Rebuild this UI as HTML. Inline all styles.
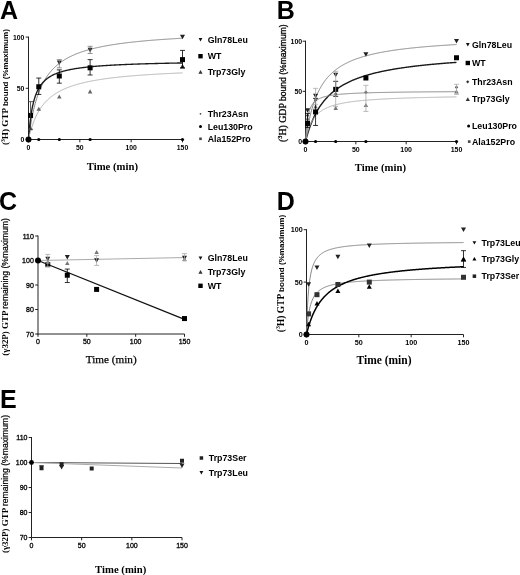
<!DOCTYPE html><html><head><meta charset="utf-8"><style>html,body{margin:0;padding:0;background:#fff;}svg{display:block;filter:grayscale(1)}</style></head><body>
<svg width="520" height="575" viewBox="0 0 520 575">
<rect width="520" height="575" fill="#fff"/>
<text x="0" y="19.4" font-family='"Liberation Sans", sans-serif' font-size="25" font-weight="bold" text-anchor="start" fill="#000" >A</text>
<text x="276.8" y="18.8" font-family='"Liberation Sans", sans-serif' font-size="25" font-weight="bold" text-anchor="start" fill="#000" >B</text>
<text x="-1" y="210.2" font-family='"Liberation Sans", sans-serif' font-size="25" font-weight="bold" text-anchor="start" fill="#000" >C</text>
<text x="276.8" y="210.2" font-family='"Liberation Sans", sans-serif' font-size="25" font-weight="bold" text-anchor="start" fill="#000" >D</text>
<text x="0" y="408" font-family='"Liberation Sans", sans-serif' font-size="25" font-weight="bold" text-anchor="start" fill="#000" >E</text>
<line x1="28.5" y1="36.6" x2="28.5" y2="140" stroke="#222" stroke-width="1"/>
<line x1="28" y1="139.5" x2="182.5" y2="139.5" stroke="#222" stroke-width="1"/>
<line x1="25.7" y1="139.5" x2="28.5" y2="139.5" stroke="#222" stroke-width="1"/>
<text transform="translate(24.4,142.29) scale(0.88,1)" font-family='"Liberation Sans", sans-serif' font-size="7.8" font-weight="bold" text-anchor="end">0</text>
<line x1="25.7" y1="88.3" x2="28.5" y2="88.3" stroke="#222" stroke-width="1"/>
<text transform="translate(24.4,91.09) scale(0.88,1)" font-family='"Liberation Sans", sans-serif' font-size="7.8" font-weight="bold" text-anchor="end">50</text>
<line x1="25.7" y1="37.1" x2="28.5" y2="37.1" stroke="#222" stroke-width="1"/>
<text transform="translate(24.4,39.89) scale(0.88,1)" font-family='"Liberation Sans", sans-serif' font-size="7.8" font-weight="bold" text-anchor="end">100</text>
<line x1="28.5" y1="139.5" x2="28.5" y2="142.3" stroke="#222" stroke-width="1"/>
<text transform="translate(28.5,149.89) scale(0.88,1)" font-family='"Liberation Sans", sans-serif' font-size="7.8" font-weight="bold" text-anchor="middle">0</text>
<line x1="79.83" y1="139.5" x2="79.83" y2="142.3" stroke="#222" stroke-width="1"/>
<text transform="translate(79.83,149.89) scale(0.88,1)" font-family='"Liberation Sans", sans-serif' font-size="7.8" font-weight="bold" text-anchor="middle">50</text>
<line x1="131.17" y1="139.5" x2="131.17" y2="142.3" stroke="#222" stroke-width="1"/>
<text transform="translate(131.17,149.89) scale(0.88,1)" font-family='"Liberation Sans", sans-serif' font-size="7.8" font-weight="bold" text-anchor="middle">100</text>
<line x1="182.5" y1="139.5" x2="182.5" y2="142.3" stroke="#222" stroke-width="1"/>
<text transform="translate(182.5,149.89) scale(0.88,1)" font-family='"Liberation Sans", sans-serif' font-size="7.8" font-weight="bold" text-anchor="middle">150</text>
<text transform="translate(8.3,87.1) rotate(-90)" text-anchor="middle"><tspan font-family='"Liberation Serif", serif' font-size="9.16" font-weight="bold">(<tspan font-size="5.68" dy="-3.3">3</tspan><tspan dy="3.3">H) GTP </tspan></tspan><tspan font-family='"Liberation Sans", sans-serif' font-size="8.05" font-weight="bold">bound (%maximum)</tspan></text>
<text x="112.4" y="170.3" font-family='"Liberation Serif", serif' font-size="10.7" font-weight="bold" text-anchor="middle" fill="#000" >Time (min)</text>
<polyline points="28.5,139.5 29.01,135.56 29.53,131.89 30.04,128.46 30.55,125.26 31.07,122.25 31.58,119.43 32.09,116.77 32.61,114.27 33.12,111.9 33.63,109.67 34.15,107.55 34.66,105.53 35.17,103.62 35.69,101.81 36.2,100.08 36.71,98.43 37.23,96.85 37.74,95.35 38.25,93.91 38.77,92.53 39.28,91.21 39.79,89.94 40.31,88.72 40.82,87.55 41.33,86.43 41.85,85.35 42.36,84.31 42.87,83.3 43.39,82.34 43.9,81.4 44.41,80.5 44.93,79.63 45.44,78.79 45.95,77.97 46.47,77.18 46.98,76.42 47.49,75.68 48.01,74.97 48.52,74.27 49.03,73.6 49.55,72.94 50.06,72.31 50.57,71.69 51.09,71.09 51.6,70.51 52.11,69.94 52.63,69.39 53.14,68.85 53.65,68.33 54.17,67.82 54.68,67.32 55.19,66.84 55.71,66.37 56.22,65.91 56.73,65.46 57.25,65.02 57.76,64.59 58.27,64.18 58.79,63.77 59.3,63.37 59.81,62.98 60.33,62.6 60.84,62.23 61.35,61.87 61.87,61.51 62.38,61.16 62.89,60.82 63.41,60.49 63.92,60.16 64.43,59.84 64.95,59.53 65.46,59.22 65.97,58.92 66.49,58.62 67,58.33 67.51,58.05 68.03,57.77 68.54,57.5 69.05,57.23 69.57,56.97 70.08,56.71 70.59,56.46 71.11,56.21 71.62,55.96 72.13,55.72 72.65,55.49 73.16,55.26 73.67,55.03 74.19,54.81 74.7,54.59 75.21,54.37 75.73,54.16 76.24,53.95 76.75,53.74 77.27,53.54 77.78,53.34 78.29,53.15 78.81,52.96 79.32,52.77 79.83,52.58 80.35,52.4 80.86,52.22 81.37,52.04 81.89,51.86 82.4,51.69 82.91,51.52 83.43,51.35 83.94,51.19 84.45,51.03 84.97,50.87 85.48,50.71 85.99,50.55 86.51,50.4 87.02,50.25 87.53,50.1 88.05,49.96 88.56,49.81 89.07,49.67 89.59,49.53 90.1,49.39 90.61,49.25 91.13,49.12 91.64,48.98 92.15,48.85 92.67,48.72 93.18,48.59 93.69,48.47 94.21,48.34 94.72,48.22 95.23,48.1 95.75,47.98 96.26,47.86 96.77,47.74 97.29,47.62 97.8,47.51 98.31,47.4 98.83,47.29 99.34,47.18 99.85,47.07 100.37,46.96 100.88,46.85 101.39,46.75 101.91,46.64 102.42,46.54 102.93,46.44 103.45,46.34 103.96,46.24 104.47,46.14 104.99,46.05 105.5,45.95 106.01,45.86 106.53,45.76 107.04,45.67 107.55,45.58 108.07,45.49 108.58,45.4 109.09,45.31 109.61,45.22 110.12,45.14 110.63,45.05 111.15,44.97 111.66,44.88 112.17,44.8 112.69,44.72 113.2,44.64 113.71,44.56 114.23,44.48 114.74,44.4 115.25,44.32 115.77,44.24 116.28,44.17 116.79,44.09 117.31,44.02 117.82,43.94 118.33,43.87 118.85,43.79 119.36,43.72 119.87,43.65 120.39,43.58 120.9,43.51 121.41,43.44 121.93,43.37 122.44,43.31 122.95,43.24 123.47,43.17 123.98,43.11 124.49,43.04 125.01,42.98 125.52,42.91 126.03,42.85 126.55,42.78 127.06,42.72 127.57,42.66 128.09,42.6 128.6,42.54 129.11,42.48 129.63,42.42 130.14,42.36 130.65,42.3 131.17,42.24 131.68,42.18 132.19,42.13 132.71,42.07 133.22,42.02 133.73,41.96 134.25,41.9 134.76,41.85 135.27,41.8 135.79,41.74 136.3,41.69 136.81,41.64 137.33,41.58 137.84,41.53 138.35,41.48 138.87,41.43 139.38,41.38 139.89,41.33 140.41,41.28 140.92,41.23 141.43,41.18 141.95,41.13 142.46,41.08 142.97,41.03 143.49,40.99 144,40.94 144.51,40.89 145.03,40.85 145.54,40.8 146.05,40.76 146.57,40.71 147.08,40.66 147.59,40.62 148.11,40.58 148.62,40.53 149.13,40.49 149.65,40.45 150.16,40.4 150.67,40.36 151.19,40.32 151.7,40.28 152.21,40.23 152.73,40.19 153.24,40.15 153.75,40.11 154.27,40.07 154.78,40.03 155.29,39.99 155.81,39.95 156.32,39.91 156.83,39.87 157.35,39.83 157.86,39.8 158.37,39.76 158.89,39.72 159.4,39.68 159.91,39.64 160.43,39.61 160.94,39.57 161.45,39.53 161.97,39.5 162.48,39.46 162.99,39.43 163.51,39.39 164.02,39.35 164.53,39.32 165.05,39.28 165.56,39.25 166.07,39.22 166.59,39.18 167.1,39.15 167.61,39.11 168.13,39.08 168.64,39.05 169.15,39.01 169.67,38.98 170.18,38.95 170.69,38.92 171.21,38.88 171.72,38.85 172.23,38.82 172.75,38.79 173.26,38.76 173.77,38.73 174.29,38.7 174.8,38.67 175.31,38.64 175.83,38.6 176.34,38.57 176.85,38.54 177.37,38.51 177.88,38.49 178.39,38.46 178.91,38.43 179.42,38.4 179.93,38.37 180.45,38.34 180.96,38.31 181.47,38.28 181.99,38.26 182.5,38.23" fill="none" stroke="#777" stroke-width="0.9"/>
<polyline points="28.5,139.5 29.01,132.89 29.53,127.29 30.04,122.49 30.55,118.34 31.07,114.7 31.58,111.49 32.09,108.64 32.61,106.09 33.12,103.79 33.63,101.71 34.15,99.82 34.66,98.09 35.17,96.51 35.69,95.06 36.2,93.72 36.71,92.47 37.23,91.32 37.74,90.24 38.25,89.24 38.77,88.3 39.28,87.42 39.79,86.59 40.31,85.82 40.82,85.08 41.33,84.39 41.85,83.73 42.36,83.11 42.87,82.52 43.39,81.96 43.9,81.43 44.41,80.92 44.93,80.44 45.44,79.98 45.95,79.54 46.47,79.12 46.98,78.71 47.49,78.33 48.01,77.96 48.52,77.6 49.03,77.26 49.55,76.93 50.06,76.61 50.57,76.31 51.09,76.01 51.6,75.73 52.11,75.46 52.63,75.19 53.14,74.94 53.65,74.69 54.17,74.45 54.68,74.22 55.19,74 55.71,73.78 56.22,73.57 56.73,73.37 57.25,73.17 57.76,72.98 58.27,72.79 58.79,72.61 59.3,72.44 59.81,72.26 60.33,72.1 60.84,71.94 61.35,71.78 61.87,71.63 62.38,71.48 62.89,71.33 63.41,71.19 63.92,71.05 64.43,70.92 64.95,70.79 65.46,70.66 65.97,70.53 66.49,70.41 67,70.29 67.51,70.17 68.03,70.06 68.54,69.95 69.05,69.84 69.57,69.73 70.08,69.63 70.59,69.53 71.11,69.43 71.62,69.33 72.13,69.23 72.65,69.14 73.16,69.05 73.67,68.96 74.19,68.87 74.7,68.78 75.21,68.7 75.73,68.62 76.24,68.53 76.75,68.45 77.27,68.38 77.78,68.3 78.29,68.22 78.81,68.15 79.32,68.08 79.83,68 80.35,67.93 80.86,67.87 81.37,67.8 81.89,67.73 82.4,67.67 82.91,67.6 83.43,67.54 83.94,67.48 84.45,67.41 84.97,67.35 85.48,67.3 85.99,67.24 86.51,67.18 87.02,67.12 87.53,67.07 88.05,67.01 88.56,66.96 89.07,66.91 89.59,66.86 90.1,66.8 90.61,66.75 91.13,66.7 91.64,66.65 92.15,66.61 92.67,66.56 93.18,66.51 93.69,66.47 94.21,66.42 94.72,66.38 95.23,66.33 95.75,66.29 96.26,66.24 96.77,66.2 97.29,66.16 97.8,66.12 98.31,66.08 98.83,66.04 99.34,66 99.85,65.96 100.37,65.92 100.88,65.88 101.39,65.85 101.91,65.81 102.42,65.77 102.93,65.74 103.45,65.7 103.96,65.67 104.47,65.63 104.99,65.6 105.5,65.56 106.01,65.53 106.53,65.5 107.04,65.46 107.55,65.43 108.07,65.4 108.58,65.37 109.09,65.34 109.61,65.31 110.12,65.28 110.63,65.25 111.15,65.22 111.66,65.19 112.17,65.16 112.69,65.13 113.2,65.1 113.71,65.07 114.23,65.04 114.74,65.02 115.25,64.99 115.77,64.96 116.28,64.94 116.79,64.91 117.31,64.88 117.82,64.86 118.33,64.83 118.85,64.81 119.36,64.78 119.87,64.76 120.39,64.73 120.9,64.71 121.41,64.69 121.93,64.66 122.44,64.64 122.95,64.62 123.47,64.59 123.98,64.57 124.49,64.55 125.01,64.53 125.52,64.5 126.03,64.48 126.55,64.46 127.06,64.44 127.57,64.42 128.09,64.4 128.6,64.38 129.11,64.36 129.63,64.34 130.14,64.32 130.65,64.3 131.17,64.28 131.68,64.26 132.19,64.24 132.71,64.22 133.22,64.2 133.73,64.18 134.25,64.16 134.76,64.14 135.27,64.13 135.79,64.11 136.3,64.09 136.81,64.07 137.33,64.05 137.84,64.04 138.35,64.02 138.87,64 139.38,63.99 139.89,63.97 140.41,63.95 140.92,63.94 141.43,63.92 141.95,63.9 142.46,63.89 142.97,63.87 143.49,63.85 144,63.84 144.51,63.82 145.03,63.81 145.54,63.79 146.05,63.78 146.57,63.76 147.08,63.75 147.59,63.73 148.11,63.72 148.62,63.7 149.13,63.69 149.65,63.67 150.16,63.66 150.67,63.65 151.19,63.63 151.7,63.62 152.21,63.6 152.73,63.59 153.24,63.58 153.75,63.56 154.27,63.55 154.78,63.54 155.29,63.52 155.81,63.51 156.32,63.5 156.83,63.48 157.35,63.47 157.86,63.46 158.37,63.45 158.89,63.43 159.4,63.42 159.91,63.41 160.43,63.4 160.94,63.39 161.45,63.37 161.97,63.36 162.48,63.35 162.99,63.34 163.51,63.33 164.02,63.31 164.53,63.3 165.05,63.29 165.56,63.28 166.07,63.27 166.59,63.26 167.1,63.25 167.61,63.24 168.13,63.22 168.64,63.21 169.15,63.2 169.67,63.19 170.18,63.18 170.69,63.17 171.21,63.16 171.72,63.15 172.23,63.14 172.75,63.13 173.26,63.12 173.77,63.11 174.29,63.1 174.8,63.09 175.31,63.08 175.83,63.07 176.34,63.06 176.85,63.05 177.37,63.04 177.88,63.03 178.39,63.02 178.91,63.01 179.42,63 179.93,62.99 180.45,62.98 180.96,62.97 181.47,62.97 181.99,62.96 182.5,62.95" fill="none" stroke="#1a1a1a" stroke-width="1.35"/>
<polyline points="28.5,139.5 29.01,137.27 29.53,135.16 30.04,133.18 30.55,131.31 31.07,129.54 31.58,127.86 32.09,126.27 32.61,124.75 33.12,123.32 33.63,121.95 34.15,120.64 34.66,119.39 35.17,118.2 35.69,117.06 36.2,115.97 36.71,114.92 37.23,113.92 37.74,112.96 38.25,112.03 38.77,111.14 39.28,110.29 39.79,109.46 40.31,108.67 40.82,107.9 41.33,107.16 41.85,106.45 42.36,105.76 42.87,105.09 43.39,104.45 43.9,103.83 44.41,103.22 44.93,102.64 45.44,102.07 45.95,101.52 46.47,100.99 46.98,100.47 47.49,99.96 48.01,99.48 48.52,99 49.03,98.54 49.55,98.09 50.06,97.65 50.57,97.23 51.09,96.82 51.6,96.41 52.11,96.02 52.63,95.64 53.14,95.26 53.65,94.9 54.17,94.54 54.68,94.2 55.19,93.86 55.71,93.53 56.22,93.21 56.73,92.89 57.25,92.58 57.76,92.28 58.27,91.99 58.79,91.7 59.3,91.42 59.81,91.14 60.33,90.87 60.84,90.61 61.35,90.35 61.87,90.09 62.38,89.85 62.89,89.6 63.41,89.36 63.92,89.13 64.43,88.9 64.95,88.68 65.46,88.46 65.97,88.24 66.49,88.03 67,87.82 67.51,87.62 68.03,87.42 68.54,87.22 69.05,87.03 69.57,86.84 70.08,86.65 70.59,86.47 71.11,86.29 71.62,86.11 72.13,85.94 72.65,85.77 73.16,85.6 73.67,85.43 74.19,85.27 74.7,85.11 75.21,84.95 75.73,84.8 76.24,84.65 76.75,84.5 77.27,84.35 77.78,84.2 78.29,84.06 78.81,83.92 79.32,83.78 79.83,83.65 80.35,83.51 80.86,83.38 81.37,83.25 81.89,83.12 82.4,82.99 82.91,82.87 83.43,82.75 83.94,82.62 84.45,82.5 84.97,82.39 85.48,82.27 85.99,82.16 86.51,82.04 87.02,81.93 87.53,81.82 88.05,81.71 88.56,81.61 89.07,81.5 89.59,81.4 90.1,81.29 90.61,81.19 91.13,81.09 91.64,80.99 92.15,80.9 92.67,80.8 93.18,80.7 93.69,80.61 94.21,80.52 94.72,80.43 95.23,80.34 95.75,80.25 96.26,80.16 96.77,80.07 97.29,79.98 97.8,79.9 98.31,79.82 98.83,79.73 99.34,79.65 99.85,79.57 100.37,79.49 100.88,79.41 101.39,79.33 101.91,79.25 102.42,79.18 102.93,79.1 103.45,79.03 103.96,78.95 104.47,78.88 104.99,78.81 105.5,78.74 106.01,78.66 106.53,78.59 107.04,78.52 107.55,78.46 108.07,78.39 108.58,78.32 109.09,78.26 109.61,78.19 110.12,78.12 110.63,78.06 111.15,78 111.66,77.93 112.17,77.87 112.69,77.81 113.2,77.75 113.71,77.69 114.23,77.63 114.74,77.57 115.25,77.51 115.77,77.45 116.28,77.39 116.79,77.34 117.31,77.28 117.82,77.22 118.33,77.17 118.85,77.11 119.36,77.06 119.87,77.01 120.39,76.95 120.9,76.9 121.41,76.85 121.93,76.8 122.44,76.75 122.95,76.69 123.47,76.64 123.98,76.59 124.49,76.55 125.01,76.5 125.52,76.45 126.03,76.4 126.55,76.35 127.06,76.3 127.57,76.26 128.09,76.21 128.6,76.17 129.11,76.12 129.63,76.07 130.14,76.03 130.65,75.99 131.17,75.94 131.68,75.9 132.19,75.85 132.71,75.81 133.22,75.77 133.73,75.73 134.25,75.69 134.76,75.64 135.27,75.6 135.79,75.56 136.3,75.52 136.81,75.48 137.33,75.44 137.84,75.4 138.35,75.36 138.87,75.32 139.38,75.29 139.89,75.25 140.41,75.21 140.92,75.17 141.43,75.13 141.95,75.1 142.46,75.06 142.97,75.02 143.49,74.99 144,74.95 144.51,74.92 145.03,74.88 145.54,74.85 146.05,74.81 146.57,74.78 147.08,74.74 147.59,74.71 148.11,74.68 148.62,74.64 149.13,74.61 149.65,74.58 150.16,74.54 150.67,74.51 151.19,74.48 151.7,74.45 152.21,74.41 152.73,74.38 153.24,74.35 153.75,74.32 154.27,74.29 154.78,74.26 155.29,74.23 155.81,74.2 156.32,74.17 156.83,74.14 157.35,74.11 157.86,74.08 158.37,74.05 158.89,74.02 159.4,73.99 159.91,73.96 160.43,73.94 160.94,73.91 161.45,73.88 161.97,73.85 162.48,73.82 162.99,73.8 163.51,73.77 164.02,73.74 164.53,73.72 165.05,73.69 165.56,73.66 166.07,73.64 166.59,73.61 167.1,73.58 167.61,73.56 168.13,73.53 168.64,73.51 169.15,73.48 169.67,73.46 170.18,73.43 170.69,73.41 171.21,73.38 171.72,73.36 172.23,73.33 172.75,73.31 173.26,73.29 173.77,73.26 174.29,73.24 174.8,73.21 175.31,73.19 175.83,73.17 176.34,73.14 176.85,73.12 177.37,73.1 177.88,73.08 178.39,73.05 178.91,73.03 179.42,73.01 179.93,72.99 180.45,72.96 180.96,72.94 181.47,72.92 181.99,72.9 182.5,72.88" fill="none" stroke="#aaa" stroke-width="0.9"/>
<rect x="28.05" y="112.94" width="5" height="5" fill="#000"/>
<rect x="36.27" y="84.26" width="5" height="5" fill="#000"/>
<rect x="56.8" y="73.51" width="5" height="5" fill="#000"/>
<rect x="87.6" y="65.32" width="5" height="5" fill="#000"/>
<rect x="180" y="57.13" width="5" height="5" fill="#000"/>
<polygon points="56.8,60.45 61.8,60.45 59.3,64.95" fill="#222"/>
<polygon points="87.6,47.75 92.6,47.75 90.1,52.25" fill="#222"/>
<polygon points="180,34.85 185,34.85 182.5,39.35" fill="#222"/>
<polygon points="28.3,130.26 32.8,130.26 30.55,126.21" fill="#666"/>
<polygon points="36.52,110.81 41.02,110.81 38.77,106.75" fill="#666"/>
<polygon points="57.05,98.52 61.55,98.52 59.3,94.47" fill="#666"/>
<polygon points="87.85,93.4 92.35,93.4 90.1,89.35" fill="#666"/>
<polygon points="180,68.53 185,68.53 182.5,64.03" fill="#222"/>
<line x1="38.77" y1="94.44" x2="38.77" y2="78.06" stroke="#000" stroke-width="0.8"/>
<line x1="36.27" y1="94.44" x2="41.27" y2="94.44" stroke="#000" stroke-width="0.8"/>
<line x1="36.27" y1="78.06" x2="41.27" y2="78.06" stroke="#000" stroke-width="0.8"/>
<line x1="59.3" y1="83.18" x2="59.3" y2="69.87" stroke="#000" stroke-width="0.8"/>
<line x1="56.8" y1="83.18" x2="61.8" y2="83.18" stroke="#000" stroke-width="0.8"/>
<line x1="56.8" y1="69.87" x2="61.8" y2="69.87" stroke="#000" stroke-width="0.8"/>
<line x1="90.1" y1="74.99" x2="90.1" y2="59.63" stroke="#000" stroke-width="0.8"/>
<line x1="87.6" y1="74.99" x2="92.6" y2="74.99" stroke="#000" stroke-width="0.8"/>
<line x1="87.6" y1="59.63" x2="92.6" y2="59.63" stroke="#000" stroke-width="0.8"/>
<line x1="182.5" y1="67.82" x2="182.5" y2="50.41" stroke="#000" stroke-width="0.8"/>
<line x1="180" y1="67.82" x2="185" y2="67.82" stroke="#000" stroke-width="0.8"/>
<line x1="180" y1="50.41" x2="185" y2="50.41" stroke="#000" stroke-width="0.8"/>
<line x1="30.55" y1="129.26" x2="30.55" y2="101.61" stroke="#333" stroke-width="0.8"/>
<line x1="28.05" y1="129.26" x2="33.05" y2="129.26" stroke="#333" stroke-width="0.8"/>
<line x1="28.05" y1="101.61" x2="33.05" y2="101.61" stroke="#333" stroke-width="0.8"/>
<line x1="59.3" y1="67.82" x2="59.3" y2="59.63" stroke="#777" stroke-width="0.8"/>
<line x1="56.8" y1="67.82" x2="61.8" y2="67.82" stroke="#777" stroke-width="0.8"/>
<line x1="56.8" y1="59.63" x2="61.8" y2="59.63" stroke="#777" stroke-width="0.8"/>
<line x1="90.1" y1="53.48" x2="90.1" y2="46.32" stroke="#777" stroke-width="0.8"/>
<line x1="87.6" y1="53.48" x2="92.6" y2="53.48" stroke="#777" stroke-width="0.8"/>
<line x1="87.6" y1="46.32" x2="92.6" y2="46.32" stroke="#777" stroke-width="0.8"/>
<circle cx="28.5" cy="139.5" r="1.6" fill="#000"/>
<circle cx="38.77" cy="139.5" r="1.6" fill="#000"/>
<circle cx="59.3" cy="139.5" r="1.6" fill="#000"/>
<circle cx="90.1" cy="139.5" r="1.6" fill="#000"/>
<circle cx="182.5" cy="139.5" r="1.6" fill="#000"/>
<circle cx="28.5" cy="139.5" r="3" fill="#000"/>
<polygon points="198.6,38.09 202.4,38.09 200.5,41.51" fill="#111"/>
<text x="207.7" y="42.97" font-family='"Liberation Sans", sans-serif' font-size="8.8" font-weight="bold" text-anchor="start" fill="#000" >Gln78Leu</text>
<rect x="198.3" y="54" width="4.4" height="4.4" fill="#000"/>
<text x="207.7" y="59.37" font-family='"Liberation Sans", sans-serif' font-size="8.8" font-weight="bold" text-anchor="start" fill="#000" >WT</text>
<polygon points="198.4,73.69 202.6,73.69 200.5,69.91" fill="#333"/>
<text x="207.7" y="74.97" font-family='"Liberation Sans", sans-serif' font-size="8.8" font-weight="bold" text-anchor="start" fill="#000" >Trp73Gly</text>
<circle cx="200.5" cy="113.8" r="0.9" fill="#444"/>
<text x="207.7" y="116.97" font-family='"Liberation Sans", sans-serif' font-size="8.8" font-weight="bold" text-anchor="start" fill="#000" >Thr23Asn</text>
<circle cx="200.5" cy="126.5" r="1.5" fill="#000"/>
<text x="207.7" y="129.67" font-family='"Liberation Sans", sans-serif' font-size="8.8" font-weight="bold" text-anchor="start" fill="#000" >Leu130Pro</text>
<rect x="199.2" y="137.5" width="2.6" height="2.6" fill="#444"/>
<text x="207.7" y="141.97" font-family='"Liberation Sans", sans-serif' font-size="8.8" font-weight="bold" text-anchor="start" fill="#000" >Ala152Pro</text>
<line x1="305.5" y1="40.7" x2="305.5" y2="142" stroke="#222" stroke-width="1"/>
<line x1="305" y1="141.5" x2="456.5" y2="141.5" stroke="#222" stroke-width="1"/>
<line x1="302.7" y1="141.5" x2="305.5" y2="141.5" stroke="#222" stroke-width="1"/>
<text x="302.2" y="144.01" font-family='"Liberation Sans", sans-serif' font-size="7.0" font-weight="bold" text-anchor="end">0</text>
<line x1="302.7" y1="91.35" x2="305.5" y2="91.35" stroke="#222" stroke-width="1"/>
<text x="302.2" y="93.86" font-family='"Liberation Sans", sans-serif' font-size="7.0" font-weight="bold" text-anchor="end">50</text>
<line x1="302.7" y1="41.2" x2="305.5" y2="41.2" stroke="#222" stroke-width="1"/>
<text x="302.2" y="43.71" font-family='"Liberation Sans", sans-serif' font-size="7.0" font-weight="bold" text-anchor="end">100</text>
<line x1="305.5" y1="141.5" x2="305.5" y2="144.3" stroke="#222" stroke-width="1"/>
<text x="305.5" y="152.01" font-family='"Liberation Sans", sans-serif' font-size="7.0" font-weight="bold" text-anchor="middle">0</text>
<line x1="355.83" y1="141.5" x2="355.83" y2="144.3" stroke="#222" stroke-width="1"/>
<text x="355.83" y="152.01" font-family='"Liberation Sans", sans-serif' font-size="7.0" font-weight="bold" text-anchor="middle">50</text>
<line x1="406.17" y1="141.5" x2="406.17" y2="144.3" stroke="#222" stroke-width="1"/>
<text x="406.17" y="152.01" font-family='"Liberation Sans", sans-serif' font-size="7.0" font-weight="bold" text-anchor="middle">100</text>
<line x1="456.5" y1="141.5" x2="456.5" y2="144.3" stroke="#222" stroke-width="1"/>
<text x="456.5" y="152.01" font-family='"Liberation Sans", sans-serif' font-size="7.0" font-weight="bold" text-anchor="middle">150</text>
<text transform="translate(285.6,83.15) rotate(-90)" text-anchor="middle"><tspan font-family='"Liberation Serif", serif' font-size="9.85" font-weight="normal" stroke="#000" stroke-width="0.3">(<tspan font-size="6.11" dy="-3.55">3</tspan><tspan dy="3.55">H) GDP </tspan></tspan><tspan font-family='"Liberation Sans", sans-serif' font-size="8.57" font-weight="normal" stroke="#000" stroke-width="0.3">bound (%maximum)</tspan></text>
<text x="380.4" y="170.8" font-family='"Liberation Serif", serif' font-size="10.7" font-weight="bold" text-anchor="middle" fill="#000" >Time (min)</text>
<polyline points="305.5,141.5 306,137.96 306.51,134.64 307.01,131.53 307.51,128.61 308.02,125.86 308.52,123.27 309.02,120.83 309.53,118.51 310.03,116.32 310.53,114.24 311.04,112.26 311.54,110.38 312.04,108.59 312.55,106.88 313.05,105.26 313.55,103.7 314.06,102.21 314.56,100.78 315.06,99.42 315.57,98.1 316.07,96.85 316.57,95.64 317.08,94.47 317.58,93.36 318.08,92.28 318.59,91.24 319.09,90.24 319.59,89.27 320.1,88.34 320.6,87.44 321.1,86.57 321.61,85.73 322.11,84.91 322.61,84.12 323.12,83.36 323.62,82.62 324.12,81.9 324.63,81.2 325.13,80.52 325.63,79.87 326.14,79.23 326.64,78.61 327.14,78 327.65,77.42 328.15,76.85 328.65,76.29 329.16,75.75 329.66,75.22 330.16,74.71 330.67,74.21 331.17,73.72 331.67,73.25 332.18,72.78 332.68,72.33 333.18,71.89 333.69,71.46 334.19,71.03 334.69,70.62 335.2,70.22 335.7,69.82 336.2,69.44 336.71,69.06 337.21,68.7 337.71,68.33 338.22,67.98 338.72,67.64 339.22,67.3 339.73,66.97 340.23,66.64 340.73,66.33 341.24,66.01 341.74,65.71 342.24,65.41 342.75,65.12 343.25,64.83 343.75,64.55 344.26,64.27 344.76,64 345.26,63.73 345.77,63.47 346.27,63.21 346.77,62.96 347.28,62.71 347.78,62.47 348.28,62.23 348.79,61.99 349.29,61.76 349.79,61.53 350.3,61.31 350.8,61.09 351.3,60.88 351.81,60.66 352.31,60.45 352.81,60.25 353.32,60.05 353.82,59.85 354.32,59.65 354.83,59.46 355.33,59.27 355.83,59.08 356.34,58.9 356.84,58.72 357.34,58.54 357.85,58.36 358.35,58.19 358.85,58.02 359.36,57.85 359.86,57.69 360.36,57.52 360.87,57.36 361.37,57.21 361.87,57.05 362.38,56.89 362.88,56.74 363.38,56.59 363.89,56.45 364.39,56.3 364.89,56.16 365.4,56.01 365.9,55.87 366.4,55.74 366.91,55.6 367.41,55.47 367.91,55.33 368.42,55.2 368.92,55.07 369.42,54.95 369.93,54.82 370.43,54.7 370.93,54.57 371.44,54.45 371.94,54.33 372.44,54.21 372.95,54.1 373.45,53.98 373.95,53.87 374.46,53.76 374.96,53.64 375.46,53.53 375.97,53.43 376.47,53.32 376.97,53.21 377.48,53.11 377.98,53 378.48,52.9 378.99,52.8 379.49,52.7 379.99,52.6 380.5,52.5 381,52.41 381.5,52.31 382.01,52.22 382.51,52.12 383.01,52.03 383.52,51.94 384.02,51.85 384.52,51.76 385.03,51.67 385.53,51.58 386.03,51.5 386.54,51.41 387.04,51.32 387.54,51.24 388.05,51.16 388.55,51.07 389.05,50.99 389.56,50.91 390.06,50.83 390.56,50.75 391.07,50.68 391.57,50.6 392.07,50.52 392.58,50.45 393.08,50.37 393.58,50.3 394.09,50.22 394.59,50.15 395.09,50.08 395.6,50.01 396.1,49.93 396.6,49.86 397.11,49.79 397.61,49.73 398.11,49.66 398.62,49.59 399.12,49.52 399.62,49.46 400.13,49.39 400.63,49.33 401.13,49.26 401.64,49.2 402.14,49.13 402.64,49.07 403.15,49.01 403.65,48.95 404.15,48.89 404.66,48.82 405.16,48.76 405.66,48.7 406.17,48.65 406.67,48.59 407.17,48.53 407.68,48.47 408.18,48.41 408.68,48.36 409.19,48.3 409.69,48.25 410.19,48.19 410.7,48.14 411.2,48.08 411.7,48.03 412.21,47.98 412.71,47.92 413.21,47.87 413.72,47.82 414.22,47.77 414.72,47.72 415.23,47.66 415.73,47.61 416.23,47.56 416.74,47.51 417.24,47.47 417.74,47.42 418.25,47.37 418.75,47.32 419.25,47.27 419.76,47.23 420.26,47.18 420.76,47.13 421.27,47.09 421.77,47.04 422.27,47 422.78,46.95 423.28,46.91 423.78,46.86 424.29,46.82 424.79,46.77 425.29,46.73 425.8,46.69 426.3,46.64 426.8,46.6 427.31,46.56 427.81,46.52 428.31,46.48 428.82,46.43 429.32,46.39 429.82,46.35 430.33,46.31 430.83,46.27 431.33,46.23 431.84,46.19 432.34,46.15 432.84,46.12 433.35,46.08 433.85,46.04 434.35,46 434.86,45.96 435.36,45.92 435.86,45.89 436.37,45.85 436.87,45.81 437.37,45.78 437.88,45.74 438.38,45.7 438.88,45.67 439.39,45.63 439.89,45.6 440.39,45.56 440.9,45.53 441.4,45.49 441.9,45.46 442.41,45.43 442.91,45.39 443.41,45.36 443.92,45.32 444.42,45.29 444.92,45.26 445.43,45.23 445.93,45.19 446.43,45.16 446.94,45.13 447.44,45.1 447.94,45.06 448.45,45.03 448.95,45 449.45,44.97 449.96,44.94 450.46,44.91 450.96,44.88 451.47,44.85 451.97,44.82 452.47,44.79 452.98,44.76 453.48,44.73 453.98,44.7 454.49,44.67 454.99,44.64 455.49,44.61 456,44.58 456.5,44.55" fill="none" stroke="#777" stroke-width="0.9"/>
<polyline points="305.5,141.5 306,139.56 306.51,137.7 307.01,135.91 307.51,134.2 308.02,132.55 308.52,130.97 309.02,129.45 309.53,127.98 310.03,126.56 310.53,125.2 311.04,123.89 311.54,122.62 312.04,121.39 312.55,120.2 313.05,119.06 313.55,117.95 314.06,116.87 314.56,115.83 315.06,114.82 315.57,113.84 316.07,112.89 316.57,111.97 317.08,111.08 317.58,110.21 318.08,109.36 318.59,108.54 319.09,107.74 319.59,106.96 320.1,106.21 320.6,105.47 321.1,104.75 321.61,104.05 322.11,103.37 322.61,102.71 323.12,102.06 323.62,101.43 324.12,100.81 324.63,100.21 325.13,99.62 325.63,99.05 326.14,98.49 326.64,97.94 327.14,97.4 327.65,96.88 328.15,96.37 328.65,95.86 329.16,95.37 329.66,94.89 330.16,94.42 330.67,93.96 331.17,93.51 331.67,93.07 332.18,92.64 332.68,92.21 333.18,91.8 333.69,91.39 334.19,90.99 334.69,90.6 335.2,90.21 335.7,89.84 336.2,89.47 336.71,89.1 337.21,88.75 337.71,88.4 338.22,88.05 338.72,87.71 339.22,87.38 339.73,87.06 340.23,86.74 340.73,86.42 341.24,86.11 341.74,85.81 342.24,85.51 342.75,85.21 343.25,84.93 343.75,84.64 344.26,84.36 344.76,84.09 345.26,83.82 345.77,83.55 346.27,83.29 346.77,83.03 347.28,82.77 347.78,82.52 348.28,82.28 348.79,82.03 349.29,81.8 349.79,81.56 350.3,81.33 350.8,81.1 351.3,80.87 351.81,80.65 352.31,80.43 352.81,80.22 353.32,80 353.82,79.79 354.32,79.59 354.83,79.38 355.33,79.18 355.83,78.98 356.34,78.79 356.84,78.6 357.34,78.41 357.85,78.22 358.35,78.03 358.85,77.85 359.36,77.67 359.86,77.49 360.36,77.31 360.87,77.14 361.37,76.97 361.87,76.8 362.38,76.63 362.88,76.47 363.38,76.31 363.89,76.14 364.39,75.99 364.89,75.83 365.4,75.67 365.9,75.52 366.4,75.37 366.91,75.22 367.41,75.07 367.91,74.92 368.42,74.78 368.92,74.64 369.42,74.5 369.93,74.36 370.43,74.22 370.93,74.08 371.44,73.95 371.94,73.81 372.44,73.68 372.95,73.55 373.45,73.42 373.95,73.3 374.46,73.17 374.96,73.05 375.46,72.92 375.97,72.8 376.47,72.68 376.97,72.56 377.48,72.44 377.98,72.32 378.48,72.21 378.99,72.09 379.49,71.98 379.99,71.87 380.5,71.76 381,71.65 381.5,71.54 382.01,71.43 382.51,71.33 383.01,71.22 383.52,71.12 384.02,71.01 384.52,70.91 385.03,70.81 385.53,70.71 386.03,70.61 386.54,70.51 387.04,70.41 387.54,70.32 388.05,70.22 388.55,70.13 389.05,70.03 389.56,69.94 390.06,69.85 390.56,69.76 391.07,69.66 391.57,69.58 392.07,69.49 392.58,69.4 393.08,69.31 393.58,69.22 394.09,69.14 394.59,69.05 395.09,68.97 395.6,68.89 396.1,68.8 396.6,68.72 397.11,68.64 397.61,68.56 398.11,68.48 398.62,68.4 399.12,68.32 399.62,68.25 400.13,68.17 400.63,68.09 401.13,68.02 401.64,67.94 402.14,67.87 402.64,67.79 403.15,67.72 403.65,67.65 404.15,67.58 404.66,67.51 405.16,67.43 405.66,67.36 406.17,67.29 406.67,67.23 407.17,67.16 407.68,67.09 408.18,67.02 408.68,66.95 409.19,66.89 409.69,66.82 410.19,66.76 410.7,66.69 411.2,66.63 411.7,66.56 412.21,66.5 412.71,66.44 413.21,66.38 413.72,66.31 414.22,66.25 414.72,66.19 415.23,66.13 415.73,66.07 416.23,66.01 416.74,65.95 417.24,65.89 417.74,65.84 418.25,65.78 418.75,65.72 419.25,65.66 419.76,65.61 420.26,65.55 420.76,65.49 421.27,65.44 421.77,65.38 422.27,65.33 422.78,65.28 423.28,65.22 423.78,65.17 424.29,65.12 424.79,65.06 425.29,65.01 425.8,64.96 426.3,64.91 426.8,64.86 427.31,64.81 427.81,64.75 428.31,64.7 428.82,64.66 429.32,64.61 429.82,64.56 430.33,64.51 430.83,64.46 431.33,64.41 431.84,64.36 432.34,64.32 432.84,64.27 433.35,64.22 433.85,64.18 434.35,64.13 434.86,64.08 435.36,64.04 435.86,63.99 436.37,63.95 436.87,63.9 437.37,63.86 437.88,63.81 438.38,63.77 438.88,63.73 439.39,63.68 439.89,63.64 440.39,63.6 440.9,63.56 441.4,63.51 441.9,63.47 442.41,63.43 442.91,63.39 443.41,63.35 443.92,63.31 444.42,63.27 444.92,63.23 445.43,63.19 445.93,63.15 446.43,63.11 446.94,63.07 447.44,63.03 447.94,62.99 448.45,62.95 448.95,62.91 449.45,62.87 449.96,62.84 450.46,62.8 450.96,62.76 451.47,62.72 451.97,62.69 452.47,62.65 452.98,62.61 453.48,62.58 453.98,62.54 454.49,62.5 454.99,62.47 455.49,62.43 456,62.4 456.5,62.36" fill="none" stroke="#1a1a1a" stroke-width="1.4"/>
<polyline points="305.5,141.5 306,133.06 306.51,127.03 307.01,122.51 307.51,118.99 308.02,116.17 308.52,113.87 309.02,111.95 309.53,110.33 310.03,108.94 310.53,107.73 311.04,106.68 311.54,105.75 312.04,104.92 312.55,104.18 313.05,103.51 313.55,102.91 314.06,102.36 314.56,101.86 315.06,101.4 315.57,100.98 316.07,100.59 316.57,100.23 317.08,99.89 317.58,99.58 318.08,99.29 318.59,99.02 319.09,98.76 319.59,98.52 320.1,98.3 320.6,98.08 321.1,97.88 321.61,97.69 322.11,97.51 322.61,97.34 323.12,97.18 323.62,97.03 324.12,96.88 324.63,96.74 325.13,96.6 325.63,96.48 326.14,96.35 326.64,96.24 327.14,96.12 327.65,96.02 328.15,95.91 328.65,95.81 329.16,95.72 329.66,95.63 330.16,95.54 330.67,95.45 331.17,95.37 331.67,95.29 332.18,95.22 332.68,95.14 333.18,95.07 333.69,95 334.19,94.93 334.69,94.87 335.2,94.81 335.7,94.74 336.2,94.69 336.71,94.63 337.21,94.57 337.71,94.52 338.22,94.47 338.72,94.42 339.22,94.37 339.73,94.32 340.23,94.27 340.73,94.23 341.24,94.18 341.74,94.14 342.24,94.1 342.75,94.05 343.25,94.01 343.75,93.98 344.26,93.94 344.76,93.9 345.26,93.86 345.77,93.83 346.27,93.79 346.77,93.76 347.28,93.73 347.78,93.69 348.28,93.66 348.79,93.63 349.29,93.6 349.79,93.57 350.3,93.54 350.8,93.51 351.3,93.49 351.81,93.46 352.31,93.43 352.81,93.41 353.32,93.38 353.82,93.36 354.32,93.33 354.83,93.31 355.33,93.28 355.83,93.26 356.34,93.24 356.84,93.22 357.34,93.19 357.85,93.17 358.35,93.15 358.85,93.13 359.36,93.11 359.86,93.09 360.36,93.07 360.87,93.05 361.37,93.03 361.87,93.01 362.38,92.99 362.88,92.98 363.38,92.96 363.89,92.94 364.39,92.92 364.89,92.91 365.4,92.89 365.9,92.87 366.4,92.86 366.91,92.84 367.41,92.83 367.91,92.81 368.42,92.8 368.92,92.78 369.42,92.77 369.93,92.75 370.43,92.74 370.93,92.72 371.44,92.71 371.94,92.7 372.44,92.68 372.95,92.67 373.45,92.66 373.95,92.64 374.46,92.63 374.96,92.62 375.46,92.61 375.97,92.6 376.47,92.58 376.97,92.57 377.48,92.56 377.98,92.55 378.48,92.54 378.99,92.53 379.49,92.51 379.99,92.5 380.5,92.49 381,92.48 381.5,92.47 382.01,92.46 382.51,92.45 383.01,92.44 383.52,92.43 384.02,92.42 384.52,92.41 385.03,92.4 385.53,92.39 386.03,92.38 386.54,92.37 387.04,92.37 387.54,92.36 388.05,92.35 388.55,92.34 389.05,92.33 389.56,92.32 390.06,92.31 390.56,92.3 391.07,92.3 391.57,92.29 392.07,92.28 392.58,92.27 393.08,92.26 393.58,92.26 394.09,92.25 394.59,92.24 395.09,92.23 395.6,92.22 396.1,92.22 396.6,92.21 397.11,92.2 397.61,92.2 398.11,92.19 398.62,92.18 399.12,92.17 399.62,92.17 400.13,92.16 400.63,92.15 401.13,92.15 401.64,92.14 402.14,92.13 402.64,92.13 403.15,92.12 403.65,92.11 404.15,92.11 404.66,92.1 405.16,92.1 405.66,92.09 406.17,92.08 406.67,92.08 407.17,92.07 407.68,92.07 408.18,92.06 408.68,92.05 409.19,92.05 409.69,92.04 410.19,92.04 410.7,92.03 411.2,92.03 411.7,92.02 412.21,92.02 412.71,92.01 413.21,92 413.72,92 414.22,91.99 414.72,91.99 415.23,91.98 415.73,91.98 416.23,91.97 416.74,91.97 417.24,91.96 417.74,91.96 418.25,91.95 418.75,91.95 419.25,91.94 419.76,91.94 420.26,91.94 420.76,91.93 421.27,91.93 421.77,91.92 422.27,91.92 422.78,91.91 423.28,91.91 423.78,91.9 424.29,91.9 424.79,91.9 425.29,91.89 425.8,91.89 426.3,91.88 426.8,91.88 427.31,91.87 427.81,91.87 428.31,91.87 428.82,91.86 429.32,91.86 429.82,91.85 430.33,91.85 430.83,91.85 431.33,91.84 431.84,91.84 432.34,91.83 432.84,91.83 433.35,91.83 433.85,91.82 434.35,91.82 434.86,91.82 435.36,91.81 435.86,91.81 436.37,91.8 436.87,91.8 437.37,91.8 437.88,91.79 438.38,91.79 438.88,91.79 439.39,91.78 439.89,91.78 440.39,91.78 440.9,91.77 441.4,91.77 441.9,91.77 442.41,91.76 442.91,91.76 443.41,91.76 443.92,91.75 444.42,91.75 444.92,91.75 445.43,91.74 445.93,91.74 446.43,91.74 446.94,91.73 447.44,91.73 447.94,91.73 448.45,91.72 448.95,91.72 449.45,91.72 449.96,91.72 450.46,91.71 450.96,91.71 451.47,91.71 451.97,91.7 452.47,91.7 452.98,91.7 453.48,91.7 453.98,91.69 454.49,91.69 454.99,91.69 455.49,91.68 456,91.68 456.5,91.68" fill="none" stroke="#777" stroke-width="0.9"/>
<polyline points="305.5,141.5 306,138.88 306.51,136.54 307.01,134.43 307.51,132.52 308.02,130.79 308.52,129.2 309.02,127.75 309.53,126.41 310.03,125.18 310.53,124.04 311.04,122.98 311.54,121.99 312.04,121.07 312.55,120.21 313.05,119.4 313.55,118.64 314.06,117.93 314.56,117.26 315.06,116.62 315.57,116.02 316.07,115.45 316.57,114.91 317.08,114.39 317.58,113.91 318.08,113.44 318.59,113 319.09,112.57 319.59,112.17 320.1,111.78 320.6,111.41 321.1,111.05 321.61,110.71 322.11,110.39 322.61,110.07 323.12,109.77 323.62,109.48 324.12,109.2 324.63,108.93 325.13,108.67 325.63,108.42 326.14,108.18 326.64,107.94 327.14,107.72 327.65,107.5 328.15,107.28 328.65,107.08 329.16,106.88 329.66,106.69 330.16,106.5 330.67,106.32 331.17,106.14 331.67,105.97 332.18,105.81 332.68,105.65 333.18,105.49 333.69,105.34 334.19,105.19 334.69,105.04 335.2,104.9 335.7,104.77 336.2,104.63 336.71,104.5 337.21,104.38 337.71,104.25 338.22,104.13 338.72,104.01 339.22,103.9 339.73,103.79 340.23,103.68 340.73,103.57 341.24,103.47 341.74,103.36 342.24,103.26 342.75,103.17 343.25,103.07 343.75,102.98 344.26,102.88 344.76,102.79 345.26,102.71 345.77,102.62 346.27,102.54 346.77,102.45 347.28,102.37 347.78,102.29 348.28,102.22 348.79,102.14 349.29,102.06 349.79,101.99 350.3,101.92 350.8,101.85 351.3,101.78 351.81,101.71 352.31,101.64 352.81,101.58 353.32,101.51 353.82,101.45 354.32,101.39 354.83,101.33 355.33,101.27 355.83,101.21 356.34,101.15 356.84,101.09 357.34,101.04 357.85,100.98 358.35,100.93 358.85,100.87 359.36,100.82 359.86,100.77 360.36,100.72 360.87,100.67 361.37,100.62 361.87,100.57 362.38,100.52 362.88,100.48 363.38,100.43 363.89,100.38 364.39,100.34 364.89,100.3 365.4,100.25 365.9,100.21 366.4,100.17 366.91,100.12 367.41,100.08 367.91,100.04 368.42,100 368.92,99.96 369.42,99.92 369.93,99.89 370.43,99.85 370.93,99.81 371.44,99.77 371.94,99.74 372.44,99.7 372.95,99.67 373.45,99.63 373.95,99.6 374.46,99.56 374.96,99.53 375.46,99.5 375.97,99.46 376.47,99.43 376.97,99.4 377.48,99.37 377.98,99.34 378.48,99.31 378.99,99.28 379.49,99.25 379.99,99.22 380.5,99.19 381,99.16 381.5,99.13 382.01,99.1 382.51,99.07 383.01,99.05 383.52,99.02 384.02,98.99 384.52,98.96 385.03,98.94 385.53,98.91 386.03,98.89 386.54,98.86 387.04,98.84 387.54,98.81 388.05,98.79 388.55,98.76 389.05,98.74 389.56,98.71 390.06,98.69 390.56,98.67 391.07,98.64 391.57,98.62 392.07,98.6 392.58,98.58 393.08,98.55 393.58,98.53 394.09,98.51 394.59,98.49 395.09,98.47 395.6,98.45 396.1,98.43 396.6,98.41 397.11,98.39 397.61,98.37 398.11,98.35 398.62,98.33 399.12,98.31 399.62,98.29 400.13,98.27 400.63,98.25 401.13,98.23 401.64,98.21 402.14,98.19 402.64,98.18 403.15,98.16 403.65,98.14 404.15,98.12 404.66,98.1 405.16,98.09 405.66,98.07 406.17,98.05 406.67,98.04 407.17,98.02 407.68,98 408.18,97.99 408.68,97.97 409.19,97.95 409.69,97.94 410.19,97.92 410.7,97.91 411.2,97.89 411.7,97.87 412.21,97.86 412.71,97.84 413.21,97.83 413.72,97.81 414.22,97.8 414.72,97.78 415.23,97.77 415.73,97.75 416.23,97.74 416.74,97.73 417.24,97.71 417.74,97.7 418.25,97.68 418.75,97.67 419.25,97.66 419.76,97.64 420.26,97.63 420.76,97.62 421.27,97.6 421.77,97.59 422.27,97.58 422.78,97.56 423.28,97.55 423.78,97.54 424.29,97.53 424.79,97.51 425.29,97.5 425.8,97.49 426.3,97.48 426.8,97.47 427.31,97.45 427.81,97.44 428.31,97.43 428.82,97.42 429.32,97.41 429.82,97.39 430.33,97.38 430.83,97.37 431.33,97.36 431.84,97.35 432.34,97.34 432.84,97.33 433.35,97.32 433.85,97.31 434.35,97.29 434.86,97.28 435.36,97.27 435.86,97.26 436.37,97.25 436.87,97.24 437.37,97.23 437.88,97.22 438.38,97.21 438.88,97.2 439.39,97.19 439.89,97.18 440.39,97.17 440.9,97.16 441.4,97.15 441.9,97.14 442.41,97.13 442.91,97.12 443.41,97.11 443.92,97.1 444.42,97.09 444.92,97.08 445.43,97.08 445.93,97.07 446.43,97.06 446.94,97.05 447.44,97.04 447.94,97.03 448.45,97.02 448.95,97.01 449.45,97 449.96,97 450.46,96.99 450.96,96.98 451.47,96.97 451.97,96.96 452.47,96.95 452.98,96.94 453.48,96.94 453.98,96.93 454.49,96.92 454.99,96.91 455.49,96.9 456,96.9 456.5,96.89" fill="none" stroke="#aaa" stroke-width="0.9"/>
<rect x="305.01" y="120.95" width="5" height="5" fill="#000"/>
<rect x="313.07" y="109.41" width="5" height="5" fill="#000"/>
<rect x="333.2" y="86.84" width="5" height="5" fill="#000"/>
<rect x="363.4" y="75.51" width="5" height="5" fill="#000"/>
<rect x="454" y="55.25" width="5" height="5" fill="#000"/>
<polygon points="305.01,108.16 310.01,108.16 307.51,112.66" fill="#222"/>
<polygon points="313.07,93.71 318.07,93.71 315.57,98.21" fill="#222"/>
<polygon points="333.2,72.85 338.2,72.85 335.7,77.35" fill="#222"/>
<polygon points="363.4,52.29 368.4,52.29 365.9,56.79" fill="#222"/>
<polygon points="454,38.95 459,38.95 456.5,43.45" fill="#222"/>
<polygon points="305.76,115.42 307.51,113.67 309.26,115.42 307.51,117.17" fill="#555"/>
<polygon points="313.82,99.98 315.57,98.23 317.32,99.98 315.57,101.73" fill="#555"/>
<polygon points="333.95,93.96 335.7,92.21 337.45,93.96 335.7,95.71" fill="#555"/>
<polygon points="364.15,92.35 365.9,90.6 367.65,92.35 365.9,94.1" fill="#555"/>
<polygon points="454.75,87.34 456.5,85.59 458.25,87.34 456.5,89.09" fill="#555"/>
<polygon points="305.26,120.46 309.76,120.46 307.51,116.41" fill="#777"/>
<polygon points="313.32,108.42 317.82,108.42 315.57,104.37" fill="#777"/>
<polygon points="333.45,109.92 337.95,109.92 335.7,105.87" fill="#777"/>
<polygon points="363.65,107.02 368.15,107.02 365.9,102.97" fill="#777"/>
<polygon points="454.25,93.38 458.75,93.38 456.5,89.32" fill="#777"/>
<line x1="315.57" y1="125.45" x2="315.57" y2="98.37" stroke="#000" stroke-width="0.8"/>
<line x1="313.07" y1="125.45" x2="318.07" y2="125.45" stroke="#000" stroke-width="0.8"/>
<line x1="313.07" y1="98.37" x2="318.07" y2="98.37" stroke="#000" stroke-width="0.8"/>
<line x1="335.7" y1="96.37" x2="335.7" y2="81.32" stroke="#000" stroke-width="0.8"/>
<line x1="333.2" y1="96.37" x2="338.2" y2="96.37" stroke="#000" stroke-width="0.8"/>
<line x1="333.2" y1="81.32" x2="338.2" y2="81.32" stroke="#000" stroke-width="0.8"/>
<line x1="307.51" y1="127.46" x2="307.51" y2="113.42" stroke="#000" stroke-width="0.8"/>
<line x1="305.01" y1="127.46" x2="310.01" y2="127.46" stroke="#000" stroke-width="0.8"/>
<line x1="305.01" y1="113.42" x2="310.01" y2="113.42" stroke="#000" stroke-width="0.8"/>
<line x1="315.57" y1="104.39" x2="315.57" y2="88.34" stroke="#aaa" stroke-width="0.8"/>
<line x1="313.07" y1="104.39" x2="318.07" y2="104.39" stroke="#aaa" stroke-width="0.8"/>
<line x1="313.07" y1="88.34" x2="318.07" y2="88.34" stroke="#aaa" stroke-width="0.8"/>
<line x1="335.7" y1="106.4" x2="335.7" y2="71.29" stroke="#aaa" stroke-width="0.8"/>
<line x1="333.2" y1="106.4" x2="338.2" y2="106.4" stroke="#aaa" stroke-width="0.8"/>
<line x1="333.2" y1="71.29" x2="338.2" y2="71.29" stroke="#aaa" stroke-width="0.8"/>
<line x1="365.9" y1="111.41" x2="365.9" y2="85.33" stroke="#aaa" stroke-width="0.8"/>
<line x1="363.4" y1="111.41" x2="368.4" y2="111.41" stroke="#aaa" stroke-width="0.8"/>
<line x1="363.4" y1="85.33" x2="368.4" y2="85.33" stroke="#aaa" stroke-width="0.8"/>
<line x1="456.5" y1="94.36" x2="456.5" y2="84.33" stroke="#aaa" stroke-width="0.8"/>
<line x1="454" y1="94.36" x2="459" y2="94.36" stroke="#aaa" stroke-width="0.8"/>
<line x1="454" y1="84.33" x2="459" y2="84.33" stroke="#aaa" stroke-width="0.8"/>
<circle cx="305.5" cy="141.5" r="1.6" fill="#000"/>
<circle cx="315.57" cy="141.5" r="1.6" fill="#000"/>
<circle cx="335.7" cy="141.5" r="1.6" fill="#000"/>
<circle cx="365.9" cy="141.5" r="1.6" fill="#000"/>
<circle cx="456.5" cy="141.5" r="1.6" fill="#000"/>
<circle cx="305.5" cy="141.5" r="3" fill="#000"/>
<polygon points="465.9,43.09 469.7,43.09 467.8,46.51" fill="#111"/>
<text x="472" y="47.97" font-family='"Liberation Sans", sans-serif' font-size="8.8" font-weight="bold" text-anchor="start" fill="#000" >Gln78Leu</text>
<rect x="465.6" y="60.8" width="4.4" height="4.4" fill="#000"/>
<text x="472" y="66.17" font-family='"Liberation Sans", sans-serif' font-size="8.8" font-weight="bold" text-anchor="start" fill="#000" >WT</text>
<polygon points="466.1,81.8 467.7,80.2 469.3,81.8 467.7,83.4" fill="#333"/>
<text x="472" y="84.97" font-family='"Liberation Sans", sans-serif' font-size="8.8" font-weight="bold" text-anchor="start" fill="#000" >Thr23Asn</text>
<polygon points="465.7,101.09 469.9,101.09 467.8,97.31" fill="#333"/>
<text x="472" y="102.37" font-family='"Liberation Sans", sans-serif' font-size="8.8" font-weight="bold" text-anchor="start" fill="#000" >Trp73Gly</text>
<circle cx="468.6" cy="126" r="1.5" fill="#000"/>
<text x="472" y="129.17" font-family='"Liberation Sans", sans-serif' font-size="8.8" font-weight="bold" text-anchor="start" fill="#000" >Leu130Pro</text>
<rect x="467.9" y="140.3" width="2.6" height="2.6" fill="#444"/>
<text x="472" y="144.77" font-family='"Liberation Sans", sans-serif' font-size="8.8" font-weight="bold" text-anchor="start" fill="#000" >Ala152Pro</text>
<line x1="38" y1="235.5" x2="38" y2="334.5" stroke="#222" stroke-width="1"/>
<line x1="37.5" y1="334" x2="184.5" y2="334" stroke="#222" stroke-width="1"/>
<line x1="35.2" y1="334" x2="38" y2="334" stroke="#222" stroke-width="1"/>
<text x="33.8" y="336.51" font-family='"Liberation Sans", sans-serif' font-size="7.0" font-weight="normal" text-anchor="end" stroke="#000" stroke-width="0.3">70</text>
<line x1="35.2" y1="309.5" x2="38" y2="309.5" stroke="#222" stroke-width="1"/>
<text x="33.8" y="312.01" font-family='"Liberation Sans", sans-serif' font-size="7.0" font-weight="normal" text-anchor="end" stroke="#000" stroke-width="0.3">80</text>
<line x1="35.2" y1="285" x2="38" y2="285" stroke="#222" stroke-width="1"/>
<text x="33.8" y="287.51" font-family='"Liberation Sans", sans-serif' font-size="7.0" font-weight="normal" text-anchor="end" stroke="#000" stroke-width="0.3">90</text>
<line x1="35.2" y1="260.5" x2="38" y2="260.5" stroke="#222" stroke-width="1"/>
<text x="33.8" y="263.01" font-family='"Liberation Sans", sans-serif' font-size="7.0" font-weight="normal" text-anchor="end" stroke="#000" stroke-width="0.3">100</text>
<line x1="35.2" y1="236" x2="38" y2="236" stroke="#222" stroke-width="1"/>
<text x="33.8" y="238.51" font-family='"Liberation Sans", sans-serif' font-size="7.0" font-weight="normal" text-anchor="end" stroke="#000" stroke-width="0.3">110</text>
<line x1="38" y1="334" x2="38" y2="336.8" stroke="#222" stroke-width="1"/>
<text x="38" y="343.81" font-family='"Liberation Sans", sans-serif' font-size="7.0" font-weight="normal" text-anchor="middle" stroke="#000" stroke-width="0.3">0</text>
<line x1="86.83" y1="334" x2="86.83" y2="336.8" stroke="#222" stroke-width="1"/>
<text x="86.83" y="343.81" font-family='"Liberation Sans", sans-serif' font-size="7.0" font-weight="normal" text-anchor="middle" stroke="#000" stroke-width="0.3">50</text>
<line x1="135.67" y1="334" x2="135.67" y2="336.8" stroke="#222" stroke-width="1"/>
<text x="135.67" y="343.81" font-family='"Liberation Sans", sans-serif' font-size="7.0" font-weight="normal" text-anchor="middle" stroke="#000" stroke-width="0.3">100</text>
<line x1="184.5" y1="334" x2="184.5" y2="336.8" stroke="#222" stroke-width="1"/>
<text x="184.5" y="343.81" font-family='"Liberation Sans", sans-serif' font-size="7.0" font-weight="normal" text-anchor="middle" stroke="#000" stroke-width="0.3">150</text>
<text transform="translate(7.8,286.9) rotate(-90)" text-anchor="middle"><tspan font-family='"Liberation Serif", serif' font-size="8.98" font-weight="bold">(γ32P) GTP </tspan><tspan font-family='"Liberation Sans", sans-serif' font-size="8.61" font-weight="normal" stroke="#000" stroke-width="0.2">remaining (%maximum)</tspan></text>
<text x="111.25" y="363.1" font-family='"Liberation Serif", serif' font-size="11.2" font-weight="normal" text-anchor="middle" fill="#000" stroke="#000" stroke-width="0.25">Time (min)</text>
<line x1="38" y1="260.5" x2="184.5" y2="257.56" stroke="#aaa" stroke-width="1"/>
<line x1="38" y1="260.5" x2="184.5" y2="319.3" stroke="#111" stroke-width="1.25"/>
<rect x="45.27" y="262.17" width="5" height="5" fill="#000"/>
<rect x="64.8" y="272.7" width="5" height="5" fill="#000"/>
<rect x="94.1" y="286.91" width="5" height="5" fill="#000"/>
<rect x="182" y="316.06" width="5" height="5" fill="#000"/>
<polygon points="45.27,256.78 50.27,256.78 47.77,261.28" fill="#222"/>
<polygon points="64.8,255.06 69.8,255.06 67.3,259.56" fill="#222"/>
<polygon points="94.1,258.25 99.1,258.25 96.6,262.75" fill="#222"/>
<polygon points="182,255.8 187,255.8 184.5,260.3" fill="#222"/>
<polygon points="45.52,263.75 50.02,263.75 47.77,259.7" fill="#777"/>
<polygon points="65.05,264.97 69.55,264.97 67.3,260.93" fill="#777"/>
<polygon points="94.35,253.95 98.85,253.95 96.6,249.9" fill="#777"/>
<polygon points="182.25,261.3 186.75,261.3 184.5,257.25" fill="#777"/>
<line x1="67.3" y1="282.55" x2="67.3" y2="269.07" stroke="#000" stroke-width="0.8"/>
<line x1="64.8" y1="282.55" x2="69.8" y2="282.55" stroke="#000" stroke-width="0.8"/>
<line x1="64.8" y1="269.07" x2="69.8" y2="269.07" stroke="#000" stroke-width="0.8"/>
<line x1="47.77" y1="266.62" x2="47.77" y2="254.38" stroke="#aaa" stroke-width="0.8"/>
<line x1="45.27" y1="266.62" x2="50.27" y2="266.62" stroke="#aaa" stroke-width="0.8"/>
<line x1="45.27" y1="254.38" x2="50.27" y2="254.38" stroke="#aaa" stroke-width="0.8"/>
<line x1="96.6" y1="265.4" x2="96.6" y2="255.6" stroke="#aaa" stroke-width="0.8"/>
<line x1="94.1" y1="265.4" x2="99.1" y2="265.4" stroke="#aaa" stroke-width="0.8"/>
<line x1="94.1" y1="255.6" x2="99.1" y2="255.6" stroke="#aaa" stroke-width="0.8"/>
<line x1="184.5" y1="260.5" x2="184.5" y2="253.64" stroke="#aaa" stroke-width="0.8"/>
<line x1="182" y1="260.5" x2="187" y2="260.5" stroke="#aaa" stroke-width="0.8"/>
<line x1="182" y1="253.64" x2="187" y2="253.64" stroke="#aaa" stroke-width="0.8"/>
<circle cx="38" cy="260.5" r="3" fill="#000"/>
<polygon points="198.6,256.49 202.4,256.49 200.5,259.91" fill="#111"/>
<text x="207.7" y="261.37" font-family='"Liberation Sans", sans-serif' font-size="8.8" font-weight="bold" text-anchor="start" fill="#000" >Gln78Leu</text>
<polygon points="198.4,273.69 202.6,273.69 200.5,269.91" fill="#333"/>
<text x="207.7" y="274.97" font-family='"Liberation Sans", sans-serif' font-size="8.8" font-weight="bold" text-anchor="start" fill="#000" >Trp73Gly</text>
<rect x="198.3" y="283.6" width="4.4" height="4.4" fill="#000"/>
<text x="207.7" y="288.97" font-family='"Liberation Sans", sans-serif' font-size="8.8" font-weight="bold" text-anchor="start" fill="#000" >WT</text>
<line x1="306.5" y1="229.2" x2="306.5" y2="335" stroke="#222" stroke-width="1"/>
<line x1="306" y1="334.5" x2="463.5" y2="334.5" stroke="#222" stroke-width="1"/>
<line x1="303.7" y1="334.5" x2="306.5" y2="334.5" stroke="#222" stroke-width="1"/>
<text x="302.8" y="337.08" font-family='"Liberation Sans", sans-serif' font-size="7.2" font-weight="bold" text-anchor="end">0</text>
<line x1="303.7" y1="282.1" x2="306.5" y2="282.1" stroke="#222" stroke-width="1"/>
<text x="302.8" y="284.68" font-family='"Liberation Sans", sans-serif' font-size="7.2" font-weight="bold" text-anchor="end">50</text>
<line x1="303.7" y1="229.7" x2="306.5" y2="229.7" stroke="#222" stroke-width="1"/>
<text x="302.8" y="232.28" font-family='"Liberation Sans", sans-serif' font-size="7.2" font-weight="bold" text-anchor="end">100</text>
<line x1="306.5" y1="334.5" x2="306.5" y2="337.3" stroke="#222" stroke-width="1"/>
<text x="306.5" y="345.08" font-family='"Liberation Sans", sans-serif' font-size="7.2" font-weight="bold" text-anchor="middle">0</text>
<line x1="358.83" y1="334.5" x2="358.83" y2="337.3" stroke="#222" stroke-width="1"/>
<text x="358.83" y="345.08" font-family='"Liberation Sans", sans-serif' font-size="7.2" font-weight="bold" text-anchor="middle">50</text>
<line x1="411.17" y1="334.5" x2="411.17" y2="337.3" stroke="#222" stroke-width="1"/>
<text x="411.17" y="345.08" font-family='"Liberation Sans", sans-serif' font-size="7.2" font-weight="bold" text-anchor="middle">100</text>
<line x1="463.5" y1="334.5" x2="463.5" y2="337.3" stroke="#222" stroke-width="1"/>
<text x="463.5" y="345.08" font-family='"Liberation Sans", sans-serif' font-size="7.2" font-weight="bold" text-anchor="middle">150</text>
<text transform="translate(283.7,273.5) rotate(-90)" text-anchor="middle"><tspan font-family='"Liberation Serif", serif' font-size="9.47" font-weight="bold">(<tspan font-size="5.87" dy="-3.41">3</tspan><tspan dy="3.41">H) GTP </tspan></tspan><tspan font-family='"Liberation Sans", sans-serif' font-size="8.09" font-weight="bold">bound (%maximum)</tspan></text>
<text x="384" y="363.5" font-family='"Liberation Serif", serif' font-size="11.5" font-weight="bold" text-anchor="middle" fill="#000" >Time (min)</text>
<polyline points="306.5,334.5 307.02,317.23 307.55,305.35 308.07,296.69 308.59,290.08 309.12,284.89 309.64,280.69 310.16,277.23 310.69,274.32 311.21,271.85 311.73,269.73 312.26,267.88 312.78,266.25 313.3,264.81 313.83,263.53 314.35,262.38 314.87,261.35 315.4,260.41 315.92,259.55 316.44,258.77 316.97,258.05 317.49,257.39 318.01,256.77 318.54,256.21 319.06,255.68 319.58,255.19 320.11,254.73 320.63,254.3 321.15,253.89 321.68,253.52 322.2,253.16 322.72,252.82 323.25,252.5 323.77,252.2 324.29,251.92 324.82,251.64 325.34,251.39 325.86,251.14 326.39,250.91 326.91,250.68 327.43,250.47 327.96,250.27 328.48,250.07 329,249.89 329.53,249.71 330.05,249.54 330.57,249.37 331.1,249.21 331.62,249.06 332.14,248.91 332.67,248.77 333.19,248.64 333.71,248.5 334.24,248.38 334.76,248.26 335.28,248.14 335.81,248.02 336.33,247.91 336.85,247.8 337.38,247.7 337.9,247.6 338.42,247.5 338.95,247.41 339.47,247.32 339.99,247.23 340.52,247.14 341.04,247.06 341.56,246.98 342.09,246.9 342.61,246.82 343.13,246.74 343.66,246.67 344.18,246.6 344.7,246.53 345.23,246.46 345.75,246.4 346.27,246.33 346.8,246.27 347.32,246.21 347.84,246.15 348.37,246.09 348.89,246.03 349.41,245.98 349.94,245.92 350.46,245.87 350.98,245.82 351.51,245.77 352.03,245.72 352.55,245.67 353.08,245.62 353.6,245.58 354.12,245.53 354.65,245.49 355.17,245.44 355.69,245.4 356.22,245.36 356.74,245.32 357.26,245.28 357.79,245.24 358.31,245.2 358.83,245.16 359.36,245.12 359.88,245.09 360.4,245.05 360.93,245.01 361.45,244.98 361.97,244.95 362.5,244.91 363.02,244.88 363.54,244.85 364.07,244.82 364.59,244.78 365.11,244.75 365.64,244.72 366.16,244.69 366.68,244.67 367.21,244.64 367.73,244.61 368.25,244.58 368.78,244.55 369.3,244.53 369.82,244.5 370.35,244.47 370.87,244.45 371.39,244.42 371.92,244.4 372.44,244.38 372.96,244.35 373.49,244.33 374.01,244.3 374.53,244.28 375.06,244.26 375.58,244.24 376.1,244.21 376.63,244.19 377.15,244.17 377.67,244.15 378.2,244.13 378.72,244.11 379.24,244.09 379.77,244.07 380.29,244.05 380.81,244.03 381.34,244.01 381.86,243.99 382.38,243.97 382.91,243.96 383.43,243.94 383.95,243.92 384.48,243.9 385,243.89 385.52,243.87 386.05,243.85 386.57,243.84 387.09,243.82 387.62,243.8 388.14,243.79 388.66,243.77 389.19,243.76 389.71,243.74 390.23,243.72 390.76,243.71 391.28,243.69 391.8,243.68 392.33,243.67 392.85,243.65 393.37,243.64 393.9,243.62 394.42,243.61 394.94,243.59 395.47,243.58 395.99,243.57 396.51,243.55 397.04,243.54 397.56,243.53 398.08,243.52 398.61,243.5 399.13,243.49 399.65,243.48 400.18,243.47 400.7,243.45 401.22,243.44 401.75,243.43 402.27,243.42 402.79,243.41 403.32,243.39 403.84,243.38 404.36,243.37 404.89,243.36 405.41,243.35 405.93,243.34 406.46,243.33 406.98,243.32 407.5,243.31 408.03,243.3 408.55,243.29 409.07,243.28 409.6,243.27 410.12,243.26 410.64,243.25 411.17,243.24 411.69,243.23 412.21,243.22 412.74,243.21 413.26,243.2 413.78,243.19 414.31,243.18 414.83,243.17 415.35,243.16 415.88,243.15 416.4,243.14 416.92,243.13 417.45,243.12 417.97,243.12 418.49,243.11 419.02,243.1 419.54,243.09 420.06,243.08 420.59,243.07 421.11,243.07 421.63,243.06 422.16,243.05 422.68,243.04 423.2,243.03 423.73,243.02 424.25,243.02 424.77,243.01 425.3,243 425.82,242.99 426.34,242.99 426.87,242.98 427.39,242.97 427.91,242.96 428.44,242.96 428.96,242.95 429.48,242.94 430.01,242.94 430.53,242.93 431.05,242.92 431.58,242.91 432.1,242.91 432.62,242.9 433.15,242.89 433.67,242.89 434.19,242.88 434.72,242.87 435.24,242.87 435.76,242.86 436.29,242.85 436.81,242.85 437.33,242.84 437.86,242.83 438.38,242.83 438.9,242.82 439.43,242.82 439.95,242.81 440.47,242.8 441,242.8 441.52,242.79 442.04,242.79 442.57,242.78 443.09,242.77 443.61,242.77 444.14,242.76 444.66,242.76 445.18,242.75 445.71,242.75 446.23,242.74 446.75,242.73 447.28,242.73 447.8,242.72 448.32,242.72 448.85,242.71 449.37,242.71 449.89,242.7 450.42,242.7 450.94,242.69 451.46,242.69 451.99,242.68 452.51,242.68 453.03,242.67 453.56,242.67 454.08,242.66 454.6,242.66 455.13,242.65 455.65,242.65 456.17,242.64 456.7,242.64 457.22,242.63 457.74,242.63 458.27,242.62 458.79,242.62 459.31,242.61 459.84,242.61 460.36,242.6 460.88,242.6 461.41,242.59 461.93,242.59 462.45,242.59 462.98,242.58 463.5,242.58" fill="none" stroke="#777" stroke-width="0.9"/>
<polyline points="306.5,334.5 307.02,327.56 307.55,322.13 308.07,317.76 308.59,314.18 309.12,311.18 309.64,308.63 310.16,306.45 310.69,304.55 311.21,302.89 311.73,301.41 312.26,300.11 312.78,298.93 313.3,297.88 313.83,296.92 314.35,296.05 314.87,295.25 315.4,294.52 315.92,293.85 316.44,293.23 316.97,292.66 317.49,292.12 318.01,291.63 318.54,291.16 319.06,290.73 319.58,290.32 320.11,289.93 320.63,289.57 321.15,289.23 321.68,288.91 322.2,288.61 322.72,288.32 323.25,288.05 323.77,287.79 324.29,287.54 324.82,287.3 325.34,287.08 325.86,286.86 326.39,286.66 326.91,286.46 327.43,286.27 327.96,286.09 328.48,285.92 329,285.76 329.53,285.6 330.05,285.44 330.57,285.3 331.1,285.15 331.62,285.02 332.14,284.88 332.67,284.76 333.19,284.63 333.71,284.51 334.24,284.4 334.76,284.29 335.28,284.18 335.81,284.08 336.33,283.98 336.85,283.88 337.38,283.78 337.9,283.69 338.42,283.6 338.95,283.51 339.47,283.43 339.99,283.35 340.52,283.27 341.04,283.19 341.56,283.12 342.09,283.04 342.61,282.97 343.13,282.9 343.66,282.83 344.18,282.77 344.7,282.7 345.23,282.64 345.75,282.58 346.27,282.52 346.8,282.46 347.32,282.4 347.84,282.35 348.37,282.29 348.89,282.24 349.41,282.19 349.94,282.14 350.46,282.09 350.98,282.04 351.51,281.99 352.03,281.94 352.55,281.9 353.08,281.85 353.6,281.81 354.12,281.77 354.65,281.72 355.17,281.68 355.69,281.64 356.22,281.6 356.74,281.56 357.26,281.53 357.79,281.49 358.31,281.45 358.83,281.42 359.36,281.38 359.88,281.35 360.4,281.31 360.93,281.28 361.45,281.25 361.97,281.21 362.5,281.18 363.02,281.15 363.54,281.12 364.07,281.09 364.59,281.06 365.11,281.03 365.64,281 366.16,280.97 366.68,280.95 367.21,280.92 367.73,280.89 368.25,280.87 368.78,280.84 369.3,280.81 369.82,280.79 370.35,280.76 370.87,280.74 371.39,280.72 371.92,280.69 372.44,280.67 372.96,280.65 373.49,280.62 374.01,280.6 374.53,280.58 375.06,280.56 375.58,280.54 376.1,280.52 376.63,280.5 377.15,280.47 377.67,280.45 378.2,280.43 378.72,280.42 379.24,280.4 379.77,280.38 380.29,280.36 380.81,280.34 381.34,280.32 381.86,280.3 382.38,280.29 382.91,280.27 383.43,280.25 383.95,280.23 384.48,280.22 385,280.2 385.52,280.18 386.05,280.17 386.57,280.15 387.09,280.14 387.62,280.12 388.14,280.1 388.66,280.09 389.19,280.07 389.71,280.06 390.23,280.04 390.76,280.03 391.28,280.02 391.8,280 392.33,279.99 392.85,279.97 393.37,279.96 393.9,279.95 394.42,279.93 394.94,279.92 395.47,279.91 395.99,279.89 396.51,279.88 397.04,279.87 397.56,279.85 398.08,279.84 398.61,279.83 399.13,279.82 399.65,279.81 400.18,279.79 400.7,279.78 401.22,279.77 401.75,279.76 402.27,279.75 402.79,279.74 403.32,279.73 403.84,279.71 404.36,279.7 404.89,279.69 405.41,279.68 405.93,279.67 406.46,279.66 406.98,279.65 407.5,279.64 408.03,279.63 408.55,279.62 409.07,279.61 409.6,279.6 410.12,279.59 410.64,279.58 411.17,279.57 411.69,279.56 412.21,279.55 412.74,279.54 413.26,279.53 413.78,279.52 414.31,279.52 414.83,279.51 415.35,279.5 415.88,279.49 416.4,279.48 416.92,279.47 417.45,279.46 417.97,279.45 418.49,279.45 419.02,279.44 419.54,279.43 420.06,279.42 420.59,279.41 421.11,279.4 421.63,279.4 422.16,279.39 422.68,279.38 423.2,279.37 423.73,279.37 424.25,279.36 424.77,279.35 425.3,279.34 425.82,279.34 426.34,279.33 426.87,279.32 427.39,279.31 427.91,279.31 428.44,279.3 428.96,279.29 429.48,279.29 430.01,279.28 430.53,279.27 431.05,279.26 431.58,279.26 432.1,279.25 432.62,279.24 433.15,279.24 433.67,279.23 434.19,279.22 434.72,279.22 435.24,279.21 435.76,279.21 436.29,279.2 436.81,279.19 437.33,279.19 437.86,279.18 438.38,279.17 438.9,279.17 439.43,279.16 439.95,279.16 440.47,279.15 441,279.14 441.52,279.14 442.04,279.13 442.57,279.13 443.09,279.12 443.61,279.12 444.14,279.11 444.66,279.1 445.18,279.1 445.71,279.09 446.23,279.09 446.75,279.08 447.28,279.08 447.8,279.07 448.32,279.07 448.85,279.06 449.37,279.06 449.89,279.05 450.42,279.05 450.94,279.04 451.46,279.04 451.99,279.03 452.51,279.03 453.03,279.02 453.56,279.02 454.08,279.01 454.6,279.01 455.13,279 455.65,279 456.17,278.99 456.7,278.99 457.22,278.98 457.74,278.98 458.27,278.97 458.79,278.97 459.31,278.96 459.84,278.96 460.36,278.95 460.88,278.95 461.41,278.94 461.93,278.94 462.45,278.94 462.98,278.93 463.5,278.93" fill="none" stroke="#777" stroke-width="0.9"/>
<polyline points="306.5,334.5 307.02,332.34 307.55,330.31 308.07,328.38 308.59,326.56 309.12,324.83 309.64,323.18 310.16,321.62 310.69,320.13 311.21,318.71 311.73,317.35 312.26,316.06 312.78,314.82 313.3,313.63 313.83,312.49 314.35,311.4 314.87,310.35 315.4,309.35 315.92,308.38 316.44,307.45 316.97,306.55 317.49,305.69 318.01,304.86 318.54,304.05 319.06,303.28 319.58,302.53 320.11,301.8 320.63,301.1 321.15,300.42 321.68,299.77 322.2,299.13 322.72,298.51 323.25,297.92 323.77,297.34 324.29,296.77 324.82,296.23 325.34,295.69 325.86,295.18 326.39,294.68 326.91,294.19 327.43,293.71 327.96,293.25 328.48,292.8 329,292.36 329.53,291.94 330.05,291.52 330.57,291.11 331.1,290.72 331.62,290.33 332.14,289.95 332.67,289.59 333.19,289.23 333.71,288.88 334.24,288.53 334.76,288.2 335.28,287.87 335.81,287.55 336.33,287.24 336.85,286.93 337.38,286.63 337.9,286.34 338.42,286.05 338.95,285.77 339.47,285.49 339.99,285.22 340.52,284.96 341.04,284.7 341.56,284.45 342.09,284.2 342.61,283.95 343.13,283.71 343.66,283.48 344.18,283.25 344.7,283.02 345.23,282.8 345.75,282.58 346.27,282.37 346.8,282.16 347.32,281.95 347.84,281.75 348.37,281.55 348.89,281.35 349.41,281.16 349.94,280.97 350.46,280.79 350.98,280.6 351.51,280.42 352.03,280.25 352.55,280.07 353.08,279.9 353.6,279.73 354.12,279.57 354.65,279.41 355.17,279.24 355.69,279.09 356.22,278.93 356.74,278.78 357.26,278.63 357.79,278.48 358.31,278.33 358.83,278.19 359.36,278.05 359.88,277.91 360.4,277.77 360.93,277.63 361.45,277.5 361.97,277.37 362.5,277.24 363.02,277.11 363.54,276.98 364.07,276.86 364.59,276.74 365.11,276.62 365.64,276.5 366.16,276.38 366.68,276.26 367.21,276.15 367.73,276.03 368.25,275.92 368.78,275.81 369.3,275.7 369.82,275.6 370.35,275.49 370.87,275.38 371.39,275.28 371.92,275.18 372.44,275.08 372.96,274.98 373.49,274.88 374.01,274.78 374.53,274.69 375.06,274.59 375.58,274.5 376.1,274.41 376.63,274.31 377.15,274.22 377.67,274.14 378.2,274.05 378.72,273.96 379.24,273.87 379.77,273.79 380.29,273.7 380.81,273.62 381.34,273.54 381.86,273.46 382.38,273.38 382.91,273.3 383.43,273.22 383.95,273.14 384.48,273.06 385,272.99 385.52,272.91 386.05,272.84 386.57,272.76 387.09,272.69 387.62,272.62 388.14,272.55 388.66,272.48 389.19,272.41 389.71,272.34 390.23,272.27 390.76,272.2 391.28,272.13 391.8,272.07 392.33,272 392.85,271.94 393.37,271.87 393.9,271.81 394.42,271.74 394.94,271.68 395.47,271.62 395.99,271.56 396.51,271.5 397.04,271.44 397.56,271.38 398.08,271.32 398.61,271.26 399.13,271.2 399.65,271.15 400.18,271.09 400.7,271.03 401.22,270.98 401.75,270.92 402.27,270.87 402.79,270.81 403.32,270.76 403.84,270.71 404.36,270.65 404.89,270.6 405.41,270.55 405.93,270.5 406.46,270.45 406.98,270.4 407.5,270.35 408.03,270.3 408.55,270.25 409.07,270.2 409.6,270.15 410.12,270.1 410.64,270.05 411.17,270.01 411.69,269.96 412.21,269.91 412.74,269.87 413.26,269.82 413.78,269.78 414.31,269.73 414.83,269.69 415.35,269.65 415.88,269.6 416.4,269.56 416.92,269.52 417.45,269.47 417.97,269.43 418.49,269.39 419.02,269.35 419.54,269.31 420.06,269.27 420.59,269.22 421.11,269.18 421.63,269.14 422.16,269.1 422.68,269.07 423.2,269.03 423.73,268.99 424.25,268.95 424.77,268.91 425.3,268.87 425.82,268.84 426.34,268.8 426.87,268.76 427.39,268.73 427.91,268.69 428.44,268.65 428.96,268.62 429.48,268.58 430.01,268.55 430.53,268.51 431.05,268.48 431.58,268.44 432.1,268.41 432.62,268.37 433.15,268.34 433.67,268.31 434.19,268.27 434.72,268.24 435.24,268.21 435.76,268.17 436.29,268.14 436.81,268.11 437.33,268.08 437.86,268.05 438.38,268.01 438.9,267.98 439.43,267.95 439.95,267.92 440.47,267.89 441,267.86 441.52,267.83 442.04,267.8 442.57,267.77 443.09,267.74 443.61,267.71 444.14,267.68 444.66,267.65 445.18,267.62 445.71,267.6 446.23,267.57 446.75,267.54 447.28,267.51 447.8,267.48 448.32,267.46 448.85,267.43 449.37,267.4 449.89,267.37 450.42,267.35 450.94,267.32 451.46,267.29 451.99,267.27 452.51,267.24 453.03,267.21 453.56,267.19 454.08,267.16 454.6,267.14 455.13,267.11 455.65,267.09 456.17,267.06 456.7,267.04 457.22,267.01 457.74,266.99 458.27,266.96 458.79,266.94 459.31,266.91 459.84,266.89 460.36,266.87 460.88,266.84 461.41,266.82 461.93,266.79 462.45,266.77 462.98,266.75 463.5,266.73" fill="none" stroke="#000" stroke-width="1.5"/>
<polygon points="306.09,282.26 311.09,282.26 308.59,286.76" fill="#222"/>
<polygon points="314.47,265.39 319.47,265.39 316.97,269.89" fill="#222"/>
<polygon points="335.4,254.7 340.4,254.7 337.9,259.2" fill="#222"/>
<polygon points="366.8,243.59 371.8,243.59 369.3,248.09" fill="#222"/>
<polygon points="461,227.45 466,227.45 463.5,231.95" fill="#222"/>
<rect x="306.09" y="311.35" width="5" height="5" fill="#333"/>
<rect x="314.47" y="292.18" width="5" height="5" fill="#333"/>
<rect x="335.4" y="282.01" width="5" height="5" fill="#333"/>
<rect x="366.8" y="279.6" width="5" height="5" fill="#333"/>
<rect x="461" y="274.78" width="5" height="5" fill="#333"/>
<polygon points="306.09,326.27 311.09,326.27 308.59,321.77" fill="#000"/>
<polygon points="314.47,305.62 319.47,305.62 316.97,301.12" fill="#000"/>
<polygon points="335.4,293.05 340.4,293.05 337.9,288.55" fill="#000"/>
<polygon points="366.8,288.75 371.8,288.75 369.3,284.25" fill="#000"/>
<polygon points="461,261.29 466,261.29 463.5,256.79" fill="#000"/>
<line x1="463.5" y1="267.43" x2="463.5" y2="250.66" stroke="#000" stroke-width="0.8"/>
<line x1="461" y1="267.43" x2="466" y2="267.43" stroke="#000" stroke-width="0.8"/>
<line x1="461" y1="250.66" x2="466" y2="250.66" stroke="#000" stroke-width="0.8"/>
<polygon points="460.75,261.52 466.25,261.52 463.5,256.57" fill="#000"/>
<circle cx="306.5" cy="334.5" r="3" fill="#000"/>
<polygon points="472.5,241.19 476.3,241.19 474.4,244.61" fill="#111"/>
<text x="481.5" y="246.07" font-family='"Liberation Sans", sans-serif' font-size="8.8" font-weight="bold" text-anchor="start" fill="#000" >Trp73Leu</text>
<polygon points="472.4,260.6 476.4,260.6 474.4,257" fill="#000"/>
<text x="481.5" y="261.97" font-family='"Liberation Sans", sans-serif' font-size="8.8" font-weight="bold" text-anchor="start" fill="#000" >Trp73Gly</text>
<rect x="472.65" y="274.45" width="3.5" height="3.5" fill="#222"/>
<text x="481.5" y="279.37" font-family='"Liberation Sans", sans-serif' font-size="8.8" font-weight="bold" text-anchor="start" fill="#000" >Trp73Ser</text>
<line x1="31.5" y1="437" x2="31.5" y2="538" stroke="#222" stroke-width="1"/>
<line x1="31" y1="537.5" x2="182" y2="537.5" stroke="#222" stroke-width="1"/>
<line x1="28.7" y1="537.5" x2="31.5" y2="537.5" stroke="#222" stroke-width="1"/>
<text x="27.5" y="540.01" font-family='"Liberation Sans", sans-serif' font-size="7.0" font-weight="normal" text-anchor="end" stroke="#000" stroke-width="0.3">70</text>
<line x1="28.7" y1="512.5" x2="31.5" y2="512.5" stroke="#222" stroke-width="1"/>
<text x="27.5" y="515.01" font-family='"Liberation Sans", sans-serif' font-size="7.0" font-weight="normal" text-anchor="end" stroke="#000" stroke-width="0.3">80</text>
<line x1="28.7" y1="487.5" x2="31.5" y2="487.5" stroke="#222" stroke-width="1"/>
<text x="27.5" y="490.01" font-family='"Liberation Sans", sans-serif' font-size="7.0" font-weight="normal" text-anchor="end" stroke="#000" stroke-width="0.3">90</text>
<line x1="28.7" y1="462.5" x2="31.5" y2="462.5" stroke="#222" stroke-width="1"/>
<text x="27.5" y="465.01" font-family='"Liberation Sans", sans-serif' font-size="7.0" font-weight="normal" text-anchor="end" stroke="#000" stroke-width="0.3">100</text>
<line x1="28.7" y1="437.5" x2="31.5" y2="437.5" stroke="#222" stroke-width="1"/>
<text x="27.5" y="440.01" font-family='"Liberation Sans", sans-serif' font-size="7.0" font-weight="normal" text-anchor="end" stroke="#000" stroke-width="0.3">110</text>
<line x1="31.5" y1="537.5" x2="31.5" y2="540.3" stroke="#222" stroke-width="1"/>
<text x="31.5" y="547.51" font-family='"Liberation Sans", sans-serif' font-size="7.0" font-weight="normal" text-anchor="middle" stroke="#000" stroke-width="0.3">0</text>
<line x1="81.67" y1="537.5" x2="81.67" y2="540.3" stroke="#222" stroke-width="1"/>
<text x="81.67" y="547.51" font-family='"Liberation Sans", sans-serif' font-size="7.0" font-weight="normal" text-anchor="middle" stroke="#000" stroke-width="0.3">50</text>
<line x1="131.83" y1="537.5" x2="131.83" y2="540.3" stroke="#222" stroke-width="1"/>
<text x="131.83" y="547.51" font-family='"Liberation Sans", sans-serif' font-size="7.0" font-weight="normal" text-anchor="middle" stroke="#000" stroke-width="0.3">100</text>
<line x1="182" y1="537.5" x2="182" y2="540.3" stroke="#222" stroke-width="1"/>
<text x="182" y="547.51" font-family='"Liberation Sans", sans-serif' font-size="7.0" font-weight="normal" text-anchor="middle" stroke="#000" stroke-width="0.3">150</text>
<text transform="translate(7.8,484.05) rotate(-90)" text-anchor="middle"><tspan font-family='"Liberation Serif", serif' font-size="8.98" font-weight="bold">(γ32P) GTP </tspan><tspan font-family='"Liberation Sans", sans-serif' font-size="8.64" font-weight="normal" stroke="#000" stroke-width="0.2">remaining (%maximum)</tspan></text>
<text x="120.7" y="572.6" font-family='"Liberation Serif", serif' font-size="10.7" font-weight="bold" text-anchor="middle" fill="#000" >Time (min)</text>
<line x1="31.5" y1="462.5" x2="182" y2="463.5" stroke="#555" stroke-width="1"/>
<line x1="31.5" y1="462.5" x2="182" y2="468" stroke="#aaa" stroke-width="1"/>
<rect x="39.53" y="466.25" width="4" height="4" fill="#222"/>
<rect x="59.6" y="462.25" width="4" height="4" fill="#222"/>
<rect x="89.7" y="466.5" width="4" height="4" fill="#222"/>
<rect x="180" y="458.75" width="4" height="4" fill="#222"/>
<polygon points="39.03,465.25 44.03,465.25 41.53,469.75" fill="#222"/>
<polygon points="59.1,465 64.1,465 61.6,469.5" fill="#222"/>
<polygon points="179.5,463.5 184.5,463.5 182,468" fill="#222"/>
<circle cx="31.5" cy="462.5" r="2.4" fill="#000"/>
<rect x="199.65" y="456.25" width="3.5" height="3.5" fill="#222"/>
<text x="208.8" y="461.17" font-family='"Liberation Sans", sans-serif' font-size="8.8" font-weight="bold" text-anchor="start" fill="#000" >Trp73Ser</text>
<polygon points="199.5,471.09 203.3,471.09 201.4,474.51" fill="#111"/>
<text x="208.8" y="475.97" font-family='"Liberation Sans", sans-serif' font-size="8.8" font-weight="bold" text-anchor="start" fill="#000" >Trp73Leu</text>
</svg></body></html>
